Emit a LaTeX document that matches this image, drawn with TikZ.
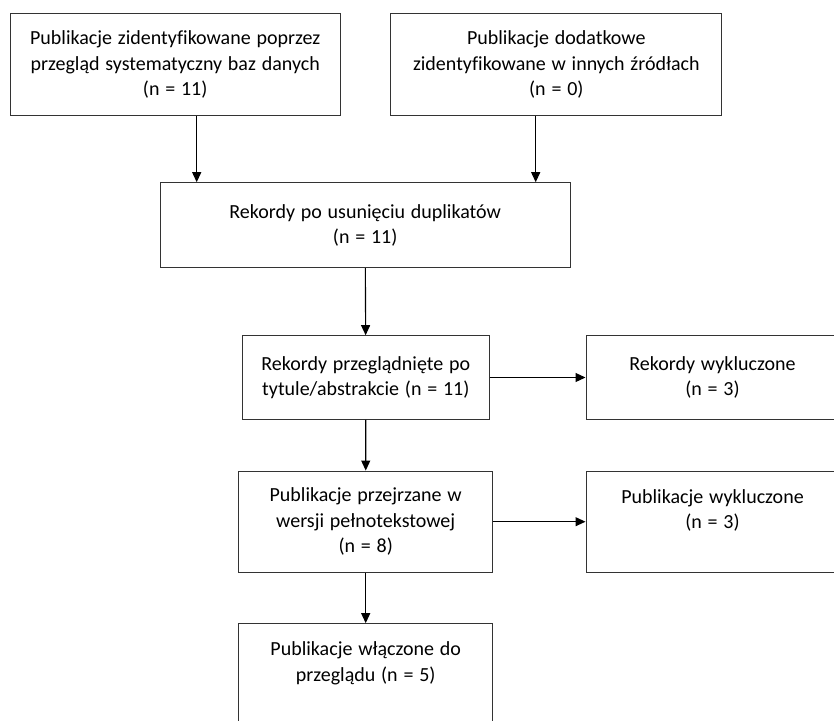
\documentclass[tikz,border=0pt]{standalone}
\usepackage{fontspec}
\setmainfont{Carlito}[Ligatures=NoCommon]
\usetikzlibrary{arrows.meta}
\newcommand\boxfont{\fontsize{20}{25.5}\selectfont\spaceskip=0.29em plus 0.1em\relax}
\begin{document}
\begin{tikzpicture}
[lineDecorate/.style={-{Triangle[length=10pt,width=9pt]},line width=1.1pt,black},%
  nodeDecorate/.style={shape=rectangle,draw=black!80,line width=1pt,align=center,
    inner sep=0pt,font=\boxfont},
  x=1pt,y=-1pt]
\useasboundingbox (0,0) rectangle (834,720);
%% boxes
\node (ident) at (175.2,64.5) [nodeDecorate,minimum width=329.7,minimum height=101.6]
  {Publikacje zidentyfikowane poprzez\\przegląd systematyczny baz danych\\(n = 11)};
\node (extra) at (556.3,64.5) [nodeDecorate,minimum width=330.7,minimum height=101.6]
  {Publikacje dodatkowe\\zidentyfikowane w innych źródłach\\(n = 0)};
\node (dedup) at (365.2,225.2) [nodeDecorate,minimum width=409.7,minimum height=85]
  {Rekordy po usunięciu duplikatów\\(n = 11)};
\node (screen) at (365.8,377.5) [nodeDecorate,minimum width=247,minimum height=83.6]
  {Rekordy przeglądnięte po\\tytule/abstrakcie (n = 11)};
\node (recexcl) at (712.5,377.5) [nodeDecorate,minimum width=253,minimum height=84.4]
  {Rekordy wykluczone\\(n = 3)};
\node (fulltext) at (365.7,521.7) [nodeDecorate,minimum width=254,minimum height=101.3]
  {Publikacje przejrzane w\\wersji pełnotekstowej\\(n = 8)};
\node (pubexcl) at (712.5,521.7) [nodeDecorate,minimum width=253,minimum height=101.3]
  {Publikacje wykluczone\\(n = 3)\\~};
\node (included) at (365.7,674.3) [nodeDecorate,minimum width=254,minimum height=101.3]
  {Publikacje włączone do\\przeglądu (n = 5)\\~};
%% arrows
\draw[lineDecorate] ([xshift=21.5pt]ident.south) -- ([xshift=21.5pt]ident.south |- dedup.north);
\draw[lineDecorate] ([xshift=-20.6pt]extra.south) -- ([xshift=-20.6pt]extra.south |- dedup.north);
\path
\foreach \startnode/\endnode in {
  dedup/screen, screen/fulltext, fulltext/included, screen/recexcl, fulltext/pubexcl}
{
  (\startnode) edge[lineDecorate] (\endnode)
};
\end{tikzpicture}
\end{document}
